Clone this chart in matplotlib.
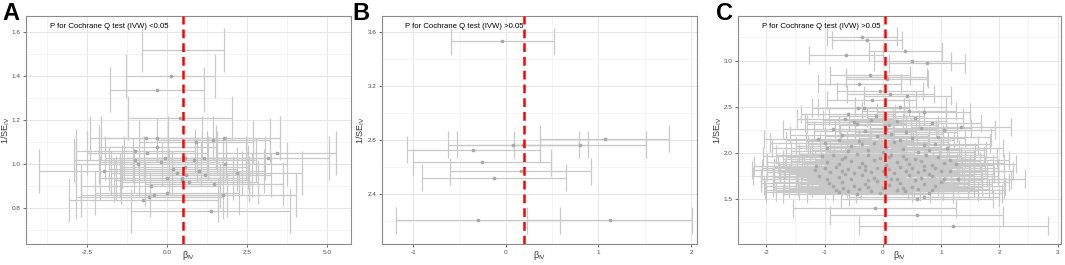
import numpy as np
import matplotlib.pyplot as plt
from matplotlib.ticker import MultipleLocator

plt.rcParams['font.family'] = ['Liberation Sans', 'DejaVu Sans']
plt.rcParams['mathtext.fontset'] = 'custom'
plt.rcParams['mathtext.rm'] = 'Liberation Sans'
plt.rcParams['mathtext.it'] = 'Liberation Sans'

# ---- panel A: beta_IV and 1/SE_IV ----
beta_a = [0.50, 0.11, -0.32, 0.41, -0.67, -0.32, 1.45, 1.78, -0.99, -0.63,
          3.43, 3.17, -0.05, 1.17, 0.55, -1.97, 0.20, 0.56, 2.19, 0.48,
          0.58, 0.46, -0.01, 1.47, -0.51, 1.74, -0.55, -0.74, 1.36, 0.85,
          -0.90, 1.00, 0.30, -0.30, 0.90, -1.00, 1.80, 0.00, -0.20, 0.70,
          -0.40, 1.20]
invse_a = [1.52, 1.40, 1.34, 1.21, 1.12, 1.12, 1.11, 1.12, 1.06, 1.05,
           1.05, 1.03, 1.03, 1.03, 1.03, 0.97, 0.98, 0.99, 0.96, 0.94,
           0.95, 0.93, 0.94, 0.91, 0.90, 0.86, 0.85, 0.84, 0.79, 1.02,
           1.00, 0.97, 0.96, 1.08, 1.10, 1.02, 1.00, 0.87, 1.01, 0.92,
           0.86, 0.95]
ivw_a = 0.50

# ---- panel B ----
beta_b = [-0.04, 1.07, 0.08, 0.18, 0.80, -0.35, -0.26, 0.16, -0.13, -0.30, 1.12]
invse_b = [3.53, 2.81, 2.765, 2.765, 2.765, 2.726, 2.637, 2.568, 2.521, 2.207, 2.207]
ivw_b = 0.20

# ---- panel C ----
beta_c = [
    # top
    -0.35, -0.27, 0.39, -0.63, 0.51, 0.76, -0.22, 0.06, 0.07, -0.40,
    -0.05, 0.13, 0.42, -0.19, -0.33, -0.43, 0.30, -0.11, 0.45, -0.60, 0.70,
    # 2.2 - 2.4
    -0.50, -0.45, -0.20, 0.10, 0.25, 0.55, 0.85, 1.35, -0.85, -0.30,
    0.40, 0.05, 0.65, -0.65, 1.05,
    # 2.0 - 2.2
    -1.12, -0.75, -0.40, -0.10, 0.20, 0.50, 0.90, -0.95, -0.55, -0.25,
    0.05, 0.35, 0.70, 1.10, -0.70, 0.15, 0.60, -0.35, -1.00, 0.95,
    0.30, -0.15, 0.80, -0.60, 0.00,
    # 1.85 - 2.0
    -1.05, -0.85, -0.65, -0.45, -0.25, -0.05, 0.15, 0.35, 0.55, 0.75,
    0.95, 1.15, -0.95, -0.75, -0.55, -0.35, -0.15, 0.05, 0.25, 0.45,
    0.65, 0.85, 1.05, -1.15, -0.30, 0.40, 0.10, -0.70, 0.70, 1.25,
    # 1.7 - 1.85
    -1.16, -1.00, -0.90, -0.80, -0.70, -0.60, -0.50, -0.40, -0.30, -0.20,
    -0.10, 0.00, 0.10, 0.20, 0.30, 0.40, 0.50, 0.60, 0.70, 0.80,
    0.90, 1.00, 1.15, -1.10, -0.95, -0.75, -0.55, -0.35, -0.15, 0.05,
    0.25, 0.45, 0.65, 0.85, 1.05, 1.30, -0.25, 0.15, 0.55, -0.65,
    # 1.5 - 1.7
    -0.92, -0.85, -0.70, -0.50, -0.30, -0.10, 0.10, 0.30, 0.50, 0.70,
    0.90, 1.00, -0.80, -0.68, -0.60, -0.40, -0.20, 0.00, 0.24, 0.39,
    0.60, 0.79, 0.85, -0.45, -0.05, 0.71, 0.59, -0.75, 0.35, -0.25,
    # bottom
    -0.14, 0.58, 1.21,
]
invse_c = [
    3.26, 3.22, 3.10, 3.06, 2.99, 2.97, 2.84, 2.82, 2.80, 2.75,
    2.67, 2.64, 2.62, 2.57, 2.49, 2.49, 2.50, 2.40, 2.45, 2.42, 2.44,
    2.33, 2.31, 2.36, 2.30, 2.34, 2.38, 2.32, 2.28, 2.26, 2.24,
    2.22, 2.26, 2.27, 2.37, 2.25,
    2.15, 2.14, 2.13, 2.18, 2.12, 2.16, 2.10, 2.05, 2.07, 2.03,
    2.06, 2.04, 2.08, 2.05, 2.19, 2.20, 2.01, 2.09, 2.11, 2.17,
    2.14, 2.11, 2.03, 2.02, 2.01,
    1.96, 1.98, 1.95, 1.99, 1.97, 1.94, 1.98, 1.96, 1.93, 1.97,
    1.95, 1.92, 1.90, 1.88, 1.91, 1.89, 1.92, 1.87, 1.90, 1.88,
    1.91, 1.87, 1.89, 1.86, 1.86, 1.93, 1.95, 1.93, 1.86, 1.88,
    1.81, 1.83, 1.79, 1.84, 1.80, 1.82, 1.78, 1.84, 1.81, 1.79,
    1.83, 1.80, 1.82, 1.78, 1.84, 1.80, 1.83, 1.79, 1.81, 1.77,
    1.83, 1.80, 1.80, 1.75, 1.72, 1.74, 1.71, 1.76, 1.73, 1.75,
    1.72, 1.76, 1.73, 1.75, 1.71, 1.72, 1.70, 1.71, 1.70, 1.77,
    1.67, 1.64, 1.68, 1.64, 1.66, 1.69, 1.65, 1.67, 1.63, 1.66,
    1.64, 1.68, 1.60, 1.62, 1.58, 1.61, 1.59, 1.62, 1.60, 1.58,
    1.61, 1.56, 1.60, 1.55, 1.56, 1.52, 1.50, 1.57, 1.62, 1.63,
    1.40, 1.32, 1.21,
]
ivw_c = 0.03

panels = [
    ("A", beta_a, invse_a, ivw_a, "P for Cochrane Q test (IVW) <0.05",
     (-4.41, 5.75), (0.638, 1.674), 2.5, 0.2),
    ("B", beta_b, invse_b, ivw_b, "P for Cochrane Q test (IVW) >0.05",
     (-1.338, 2.065), (2.03, 3.718), 1.0, 0.4),
    ("C", beta_c, invse_c, ivw_c, "P for Cochrane Q test (IVW) >0.05",
     (-2.485, 3.06), (1.01, 3.483), 1.0, 0.5),
]
# axes boxes in pixels: left, right; y-label centre x
boxes = [(26, 351), (382, 697), (738, 1061)]
ylab_x = [6, 361, 718]
letter_x = [2, 352, 716]

W, H = 1065, 265
fig = plt.figure(figsize=(W / 100, H / 100), dpi=100)

bar_col = "#c9c9c9"
for (letter, beta, invse, ivw, txt, xl, yl, xstep, ystep), (l, r), yx, lx in zip(panels, boxes, ylab_x, letter_x):
    ax = fig.add_axes([l / W, (H - 244) / H, (r - l) / W, (244 - 16) / H])
    beta = np.array(beta)
    invse = np.array(invse)
    hw = 1.96 / invse  # 95% CI half width, SE = 1/invse

    ax.hlines(invse, beta - hw, beta + hw, color=bar_col, lw=0.9, zorder=2)
    ax.vlines(beta - hw, invse - 0.1, invse + 0.1, color=bar_col, lw=0.9, zorder=2)
    ax.vlines(beta + hw, invse - 0.1, invse + 0.1, color=bar_col, lw=0.9, zorder=2)
    ax.scatter(beta, invse, s=7, color="#a8a8a8", zorder=3, linewidths=0)
    ax.axvline(ivw, color="red", lw=1.8, ls=(0, (3.5, 2)), zorder=4)

    ax.set_xlim(*xl)
    ax.set_ylim(*yl)
    ax.xaxis.set_major_locator(MultipleLocator(xstep))
    ax.xaxis.set_minor_locator(MultipleLocator(xstep / 2))
    ax.yaxis.set_major_locator(MultipleLocator(ystep))
    ax.yaxis.set_minor_locator(MultipleLocator(ystep / 2))
    if letter == "A":
        ax.xaxis.set_major_formatter(lambda v, p: f"{v:.1f}")
    else:
        ax.xaxis.set_major_formatter(lambda v, p: f"{v:.0f}")
    ax.yaxis.set_major_formatter(lambda v, p: f"{v:.1f}")

    ax.grid(which="major", color="#e6e6e6", lw=0.7, zorder=0)
    ax.grid(which="minor", color="#f2f2f2", lw=0.5, zorder=0)
    ax.set_axisbelow(True)
    for s in ax.spines.values():
        s.set_color("#8c8c8c")
        s.set_linewidth(0.8)
    ax.tick_params(which="major", length=2.5, width=0.6, color="#555555",
                   labelsize=4.6, labelcolor="#4d4d4d", pad=1.5)
    ax.tick_params(which="minor", length=0)

    ax.set_xlabel(r"$\beta_{\mathregular{IV}}$", fontsize=6.5, color="#333333")
    ax.xaxis.set_label_coords(0.5, -(256 - 244) / 228)
    ax.xaxis.label.set_va("center")
    ax.set_ylabel(r"1/SE$_{\mathregular{IV}}$", fontsize=6.5, color="#333333")
    ax.yaxis.set_label_coords((yx - l) / (r - l), 0.5)
    ax.yaxis.label.set_va("center")

    ax.text(0.073, 0.955, txt, transform=ax.transAxes, fontsize=5.6,
            ha="left", va="center", color="black", zorder=5)
    fig.text(lx / W, (H - 2) / H, letter, fontsize=17, fontweight="bold",
             ha="left", va="top")

fig.savefig("out.png", dpi=100)
